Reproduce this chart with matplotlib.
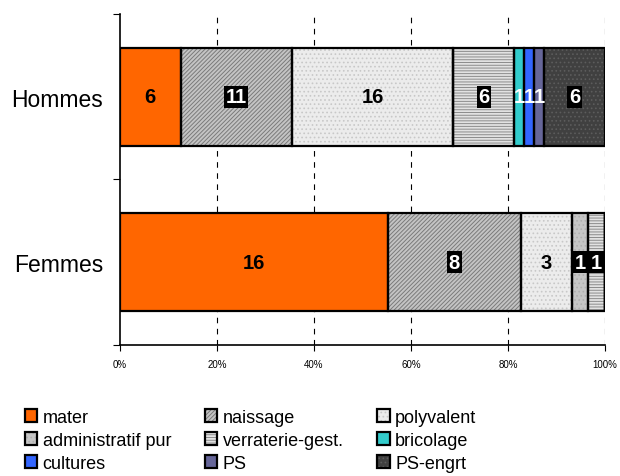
import matplotlib.pyplot as plt
import matplotlib.patches as mpatches
import numpy as np

plt.rcParams['font.family'] = ['Liberation Sans', 'DejaVu Sans']
plt.rcParams['hatch.linewidth'] = 0.7

groups = ['Femmes', 'Hommes']
categories = ['mater', 'naissage', 'polyvalent', 'administratif pur', 'verraterie-gest.',
              'bricolage', 'cultures', 'PS', 'PS-engrt']
femmes = [16, 8, 3, 1, 1, 0, 0, 0, 0]
hommes = [6, 11, 16, 0, 6, 1, 1, 1, 6]

# fill colour, hatch, hatch colour, label text colour, label box
styles = [
    ('#ff6600', None, None, 'black', False),
    ('#c4c4c4', '////////', '#7a7a7a', 'white', True),
    ('#ececec', '....', '#c8c8c8', 'black', False),
    ('#c6c6c6', '....', '#b0b0b0', 'white', True),
    ('#e2e2e2', '------', '#8c8c8c', 'white', True),
    ('#33cccc', None, None, 'white', False),
    ('#3366ff', None, None, 'white', False),
    ('#666699', None, None, 'white', False),
    ('#404040', '....', '#5c5c5c', 'white', True),
]

counts = np.array([femmes, hommes], dtype=float)
pct = counts / counts.sum(axis=1, keepdims=True) * 100

fig = plt.figure(figsize=(6.2, 4.77), dpi=100)
ax = fig.add_axes([0.1935, 0.2746, 0.7823, 0.694])

ypos = np.arange(len(groups))
height = 0.59
left = np.zeros(len(groups))
handles = []
for i, cat in enumerate(categories):
    fc, hatch, hc, tc, box = styles[i]
    w = pct[:, i]
    ax.barh(ypos, w, height, left=left, color=fc, hatch=hatch,
            edgecolor=hc if hc else fc, linewidth=0, zorder=2)
    ax.barh(ypos, w, height, left=left, facecolor='none',
            edgecolor='black', linewidth=1.6, zorder=3)
    for j in range(len(groups)):
        if counts[j, i] > 0:
            kw = {}
            if box:
                kw['bbox'] = dict(facecolor='black', edgecolor='none', pad=1.2)
            ax.text(left[j] + w[j] / 2, ypos[j], '%d' % counts[j, i],
                    ha='center', va='center', fontsize=14.5, fontweight='bold',
                    color=tc, zorder=4, **kw)
    left += w
    p1 = mpatches.Patch(facecolor=fc, hatch=hatch, edgecolor=hc if hc else fc, linewidth=0)
    p2 = mpatches.Patch(facecolor='none', edgecolor='black', linewidth=1.6)
    handles.append((p1, p2))

ax.set_xlim(0, 100)
ax.set_ylim(-0.5, 1.5)
ax.set_xticks(np.arange(0, 101, 20))
ax.set_xticklabels(['%d%%' % v for v in range(0, 101, 20)], fontsize=7)
ax.tick_params(axis='x', direction='out', length=4, width=0.8, pad=6)
for x in range(20, 101, 20):
    ax.axvline(x, color='black', linewidth=0.8, linestyle=(0, (5, 5)), zorder=1)

ax.set_yticks([-0.5, 0.5, 1.5])
ax.set_yticklabels([])
ax.set_yticks(ypos, minor=True)
ax.set_yticklabels(groups, minor=True, fontsize=16.5)
ax.tick_params(axis='y', which='major', direction='out', length=5, width=0.8)
ax.tick_params(axis='y', which='minor', length=0, pad=12)

ax.spines['top'].set_visible(False)
ax.spines['right'].set_visible(False)
ax.spines['left'].set_linewidth(1.2)
ax.spines['bottom'].set_linewidth(1.2)

order = [0, 3, 6, 1, 4, 7, 2, 5, 8]
fig.legend([handles[k] for k in order], [categories[k] for k in order],
           loc='upper left', bbox_to_anchor=(0.028, 0.156), ncol=3, frameon=False,
           fontsize=13, handlelength=0.7, handleheight=0.7, handletextpad=0.3,
           labelspacing=0.33, columnspacing=1.85, borderaxespad=0)

fig.savefig('out.png', dpi=100)
